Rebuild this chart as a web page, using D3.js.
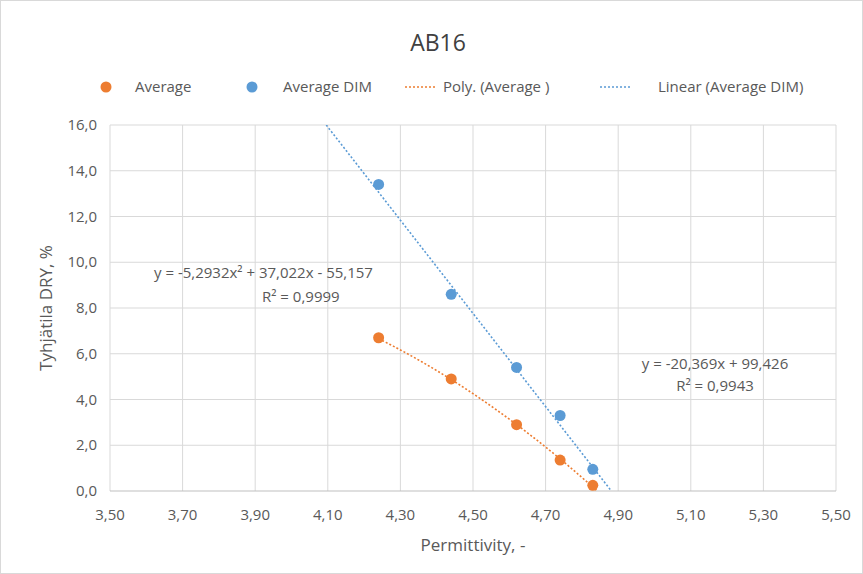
<!DOCTYPE html>
<html>
<head>
<meta charset="utf-8">
<script src="https://cdn.jsdelivr.net/npm/d3@7"></script>
<style>
  body { margin: 0; background: #fff; }
  text { font-family: "Open Sans", "Liberation Sans", sans-serif; fill: #595959; }
</style>
</head>
<body>
<div id="vis"></div>
<script>
// data
var permAvg = [4.24, 4.44, 4.62, 4.74, 4.83];
var voidAvg = [6.7, 4.9, 2.9, 1.35, 0.25];
var permDim = [4.24, 4.44, 4.62, 4.74, 4.83];
var voidDim = [13.4, 8.6, 5.4, 3.3, 0.95];
// trendline coefficients as printed on the chart
var polyCoef = [-55.157, 37.022, -5.2932]; // c0 + c1 x + c2 x^2
var linCoef = [99.426, -20.369];
var xTicks = [3.5, 3.7, 3.9, 4.1, 4.3, 4.5, 4.7, 4.9, 5.1, 5.3, 5.5];
var yTicks = [0, 2, 4, 6, 8, 10, 12, 14, 16];

var W = 863, H = 574;
var margin = { top: 125, left: 110, right: 27, bottom: 83 };

var svg = d3.select('#vis').append('svg')
  .attr('width', W).attr('height', H);

// chart border
svg.append('rect')
  .attr('x', 0.5).attr('y', 0.5)
  .attr('width', W - 1).attr('height', H - 1)
  .attr('fill', 'white').attr('stroke', '#d9d9d9');

var x = d3.scaleLinear().domain([3.5, 5.5]).range([margin.left, W - margin.right]);
var y = d3.scaleLinear().domain([0, 16]).range([H - margin.bottom, margin.top]);

var fmt = function(v, n) { return v.toFixed(n).replace('.', ','); };

// gridlines
svg.append('g').selectAll('line').data(yTicks.filter(function(d){ return d > 0; }))
  .join('line')
  .attr('x1', x(3.5)).attr('x2', x(5.5))
  .attr('y1', function(d){ return y(d); }).attr('y2', function(d){ return y(d); })
  .attr('stroke', '#d9d9d9');
svg.append('g').selectAll('line').data(xTicks)
  .join('line')
  .attr('y1', y(0)).attr('y2', y(16))
  .attr('x1', function(d){ return x(d); }).attr('x2', function(d){ return x(d); })
  .attr('stroke', '#d9d9d9');
// x axis line
svg.append('line')
  .attr('x1', x(3.5)).attr('x2', x(5.5)).attr('y1', y(0)).attr('y2', y(0))
  .attr('stroke', '#bfbfbf');

// tick labels
svg.append('g').selectAll('text').data(yTicks).join('text')
  .attr('x', x(3.5) - 13).attr('y', function(d){ return y(d) + 5; })
  .attr('text-anchor', 'end').attr('font-size', 15)
  .text(function(d){ return fmt(d, 1); });
svg.append('g').selectAll('text').data(xTicks).join('text')
  .attr('x', function(d){ return x(d); }).attr('y', y(0) + 29)
  .attr('text-anchor', 'middle').attr('font-size', 15)
  .text(function(d){ return fmt(d, 2); });

// axis titles
svg.append('text').attr('x', (x(3.5) + x(5.5)) / 2).attr('y', 551)
  .attr('text-anchor', 'middle').attr('font-size', 17).text('Permittivity, -');
svg.append('text')
  .attr('transform', 'translate(52,' + ((y(0) + y(16)) / 2) + ') rotate(-90)')
  .attr('text-anchor', 'middle').attr('font-size', 17).text('Tyhjätila DRY, %');

// title
svg.append('text').attr('x', 438).attr('y', 51)
  .attr('text-anchor', 'middle').attr('font-size', 23).style('fill', '#404040').text('AB16');

svg.append('clipPath').attr('id', 'plot')
  .append('rect').attr('x', x(3.5)).attr('y', y(16))
  .attr('width', x(5.5) - x(3.5)).attr('height', y(0) - y(16));

var line = d3.line().x(function(d){ return x(d[0]); }).y(function(d){ return y(d[1]); });

// poly trendline, over the data range
var polyPts = d3.range(permAvg[0], permAvg[permAvg.length - 1] + 0.011, 0.01).map(function(v){
  return [v, polyCoef[0] + polyCoef[1] * v + polyCoef[2] * v * v];
});
svg.append('path').datum(polyPts).attr('d', line)
  .attr('fill', 'none').attr('stroke', '#ED7D31').attr('stroke-width', 1.6)
  .attr('stroke-dasharray', '2,2').attr('clip-path', 'url(#plot)');

// linear trendline, from y=16 down to y=0
var x16 = (linCoef[0] - 16) / -linCoef[1], x0 = linCoef[0] / -linCoef[1];
svg.append('path').datum([[x16, 16], [x0, 0]]).attr('d', line)
  .attr('fill', 'none').attr('stroke', '#5B9BD5').attr('stroke-width', 1.6)
  .attr('stroke-dasharray', '2,2').attr('clip-path', 'url(#plot)');

// points
svg.append('g').selectAll('circle').data(d3.zip(permAvg, voidAvg)).join('circle')
  .attr('cx', function(d){ return x(d[0]); }).attr('cy', function(d){ return y(d[1]); })
  .attr('r', 5.5).attr('fill', '#ED7D31');
svg.append('g').selectAll('circle').data(d3.zip(permDim, voidDim)).join('circle')
  .attr('cx', function(d){ return x(d[0]); }).attr('cy', function(d){ return y(d[1]); })
  .attr('r', 5.5).attr('fill', '#5B9BD5');

// trendline equations
var eq1 = svg.append('text').attr('font-size', 15);
eq1.append('tspan').attr('x', 154).attr('y', 278)
  .text('y = ' + fmt(polyCoef[2], 4) + 'x² + ' + fmt(polyCoef[1], 3) + 'x - ' + fmt(-polyCoef[0], 3));
eq1.append('tspan').attr('x', 262).attr('y', 302).text('R² = 0,9999');
var eq2 = svg.append('text').attr('font-size', 15).attr('text-anchor', 'middle');
eq2.append('tspan').attr('x', 715).attr('y', 369)
  .text('y = ' + fmt(linCoef[1], 3) + 'x + ' + fmt(linCoef[0], 3));
eq2.append('tspan').attr('x', 715).attr('y', 391).text('R² = 0,9943');

// legend
var lg = svg.append('g').attr('font-size', 15);
lg.append('circle').attr('cx', 106).attr('cy', 87).attr('r', 5.5).attr('fill', '#ED7D31');
lg.append('text').attr('x', 135).attr('y', 92).text('Average');
lg.append('circle').attr('cx', 252).attr('cy', 87).attr('r', 5.5).attr('fill', '#5B9BD5');
lg.append('text').attr('x', 283).attr('y', 92).text('Average DIM');
lg.append('line').attr('x1', 405).attr('x2', 436).attr('y1', 87).attr('y2', 87)
  .attr('stroke', '#ED7D31').attr('stroke-width', 1.6).attr('stroke-dasharray', '2,2');
lg.append('text').attr('x', 443).attr('y', 92).text('Poly. (Average )');
lg.append('line').attr('x1', 600).attr('x2', 632).attr('y1', 87).attr('y2', 87)
  .attr('stroke', '#5B9BD5').attr('stroke-width', 1.6).attr('stroke-dasharray', '2,2');
lg.append('text').attr('x', 658).attr('y', 92).text('Linear (Average DIM)');
</script>
</body>
</html>
